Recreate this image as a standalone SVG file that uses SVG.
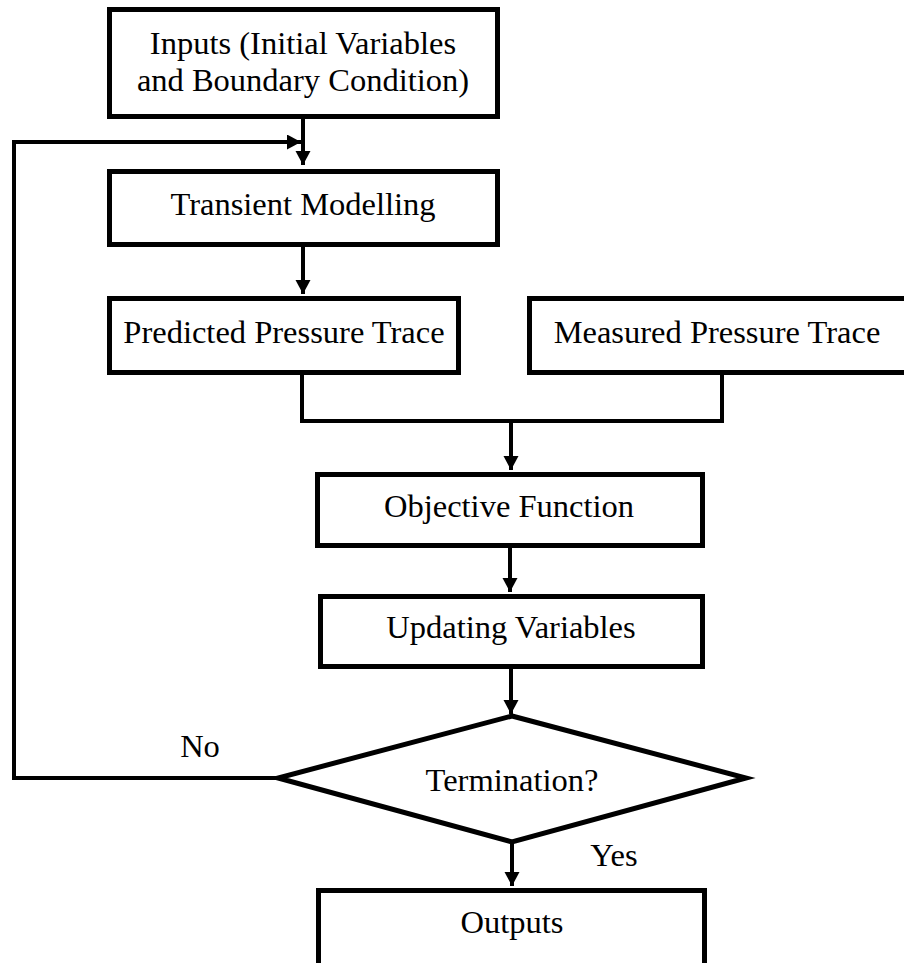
<svg xmlns="http://www.w3.org/2000/svg" width="904" height="963" viewBox="0 0 904 963">
<style>
.box{fill:#fff;stroke:#000;stroke-width:5;}
.lbl{font-family:"Liberation Serif","Times New Roman",serif;font-size:32.5px;fill:#000;text-anchor:middle;}
.con{fill:none;stroke:#000;stroke-width:4;}
</style>
<defs>
<marker id="ah" markerUnits="userSpaceOnUse" markerWidth="16" markerHeight="16" refX="14" refY="7.5" orient="auto">
<path d="M0,0 L14,7.5 L0,15 z" fill="#000"/>
</marker>
</defs>
<rect width="904" height="963" fill="#fff"/>
<g id="connectors">
<line class="con" x1="303" y1="119" x2="303" y2="165" marker-end="url(#ah)"/>
<polyline class="con" points="278,778 14,778 14,142 301,142" marker-end="url(#ah)"/>
<line class="con" x1="303" y1="247" x2="303" y2="294" marker-end="url(#ah)"/>
<polyline class="con" points="302,375 302,421 722,421 722,375"/>
<line class="con" x1="511" y1="421" x2="511" y2="470" marker-end="url(#ah)"/>
<line class="con" x1="510" y1="548" x2="510" y2="592" marker-end="url(#ah)"/>
<line class="con" x1="511" y1="669" x2="511" y2="714" marker-end="url(#ah)"/>
<line class="con" x1="512" y1="842" x2="512" y2="886" marker-end="url(#ah)"/>
<text class="lbl" x="200" y="757">No</text>
<text class="lbl" x="614" y="866">Yes</text>
</g>
<g id="inputs">
<rect class="box" x="109.5" y="9.5" width="388" height="107"/>
<text class="lbl" x="303" y="54">Inputs (Initial Variables</text>
<text class="lbl" x="303" y="91">and Boundary Condition)</text>
</g>
<g id="transient">
<rect class="box" x="109.5" y="171.5" width="388" height="73"/>
<text class="lbl" x="303" y="215">Transient Modelling</text>
</g>
<g id="predicted">
<rect class="box" x="109.5" y="298.5" width="349" height="74"/>
<text class="lbl" x="284" y="343">Predicted Pressure Trace</text>
</g>
<g id="measured">
<rect class="box" x="529.5" y="298.5" width="400" height="74"/>
<text class="lbl" x="717" y="343">Measured Pressure Trace</text>
</g>
<g id="objective">
<rect class="box" x="317.5" y="474.5" width="385" height="71"/>
<text class="lbl" x="509" y="517">Objective Function</text>
</g>
<g id="updating">
<rect class="box" x="320.5" y="596.5" width="382" height="70"/>
<text class="lbl" x="511" y="638">Updating Variables</text>
</g>
<g id="termination">
<polygon class="box" points="512,716 746,778 512,842 278,778"/>
<text class="lbl" x="512" y="791">Termination?</text>
</g>
<g id="outputs">
<rect class="box" x="318.5" y="890.5" width="386" height="100"/>
<text class="lbl" x="512" y="933">Outputs</text>
</g>
</svg>
